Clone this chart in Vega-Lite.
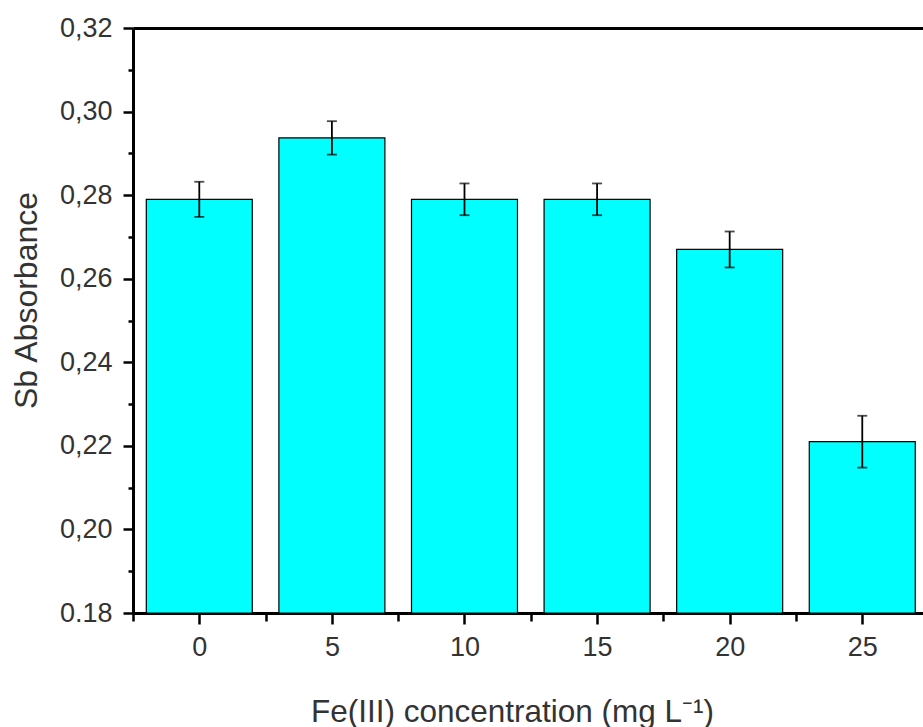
{
  "$schema": "https://vega.github.io/schema/vega-lite/v6.json",
  "width": 790,
  "height": 585,
  "autosize": {"type": "none"},
  "padding": {"left": 133, "top": 28, "right": 0, "bottom": 114},
  "background": "white",
  "config": {
    "view": {"stroke": null},
    "font": "Liberation Sans",
    "axis": {"grid": false, "labelFont": "Liberation Sans", "titleFont": "Liberation Sans", "labelColor": "#333333", "titleColor": "#333333", "titleFontWeight": "normal", "domainColor": "black", "tickColor": "black"}
  },
  "data": {
    "values": [
      {"conc": 0, "absorbance": 0.279, "err": 0.0042},
      {"conc": 5, "absorbance": 0.2937, "err": 0.004},
      {"conc": 10, "absorbance": 0.279, "err": 0.0038},
      {"conc": 15, "absorbance": 0.279, "err": 0.0038},
      {"conc": 20, "absorbance": 0.267, "err": 0.0043},
      {"conc": 25, "absorbance": 0.221, "err": 0.0062}
    ]
  },
  "resolve": {"axis": {"x": "independent"}},
  "layer": [
    {
      "mark": {"type": "bar", "width": 106, "fill": "#00FFFF", "stroke": "black", "strokeWidth": 1.2, "clip": true},
      "encoding": {
        "x": {
          "field": "conc", "type": "quantitative",
          "scale": {"domain": [-2.5, 27.29], "nice": false, "zero": false, "padding": 0},
          "axis": {
            "orient": "bottom",
            "values": [-2.5, 0, 2.5, 5, 7.5, 10, 12.5, 15, 17.5, 20, 22.5, 25],
            "labelExpr": "datum.value % 5 === 0 ? datum.label : ''",
            "labelFontSize": 27,
            "labelPadding": 10,
            "labelFlush": false,
            "labelOverlap": false,
            "domainWidth": 3,
            "tickWidth": 2.5,
            "tickSize": {"condition": {"test": "datum.value % 5 === 0", "value": 11}, "value": 8},
            "title": "Fe(III) concentration (mg L⁻¹)",
            "titleFontSize": 31.5,
            "titleX": 379,
            "titleY": 108,
            "titleAlign": "center",
            "titleBaseline": "alphabetic",
            "titleAnchor": null
          }
        },
        "y": {
          "field": "absorbance", "type": "quantitative",
          "scale": {"domain": [0.18, 0.32], "nice": false, "zero": false},
          "axis": {
            "values": [0.18, 0.19, 0.2, 0.21, 0.22, 0.23, 0.24, 0.25, 0.26, 0.27, 0.28, 0.29, 0.3, 0.31, 0.32],
            "labelExpr": "round(datum.value*100) % 2 === 0 ? (datum.value < 0.185 ? '0.18' : replace(format(datum.value, '.2f'), '.', ',')) : ''",
            "labelFontSize": 27,
            "labelPadding": 11,
            "labelFlush": false,
            "labelOverlap": false,
            "domainWidth": 3,
            "tickWidth": 2.5,
            "tickSize": {"condition": {"test": "round(datum.value*100) % 2 === 0", "value": 10}, "value": 5},
            "title": "Sb Absorbance",
            "titleFontSize": 32,
            "titleAngle": -90,
            "titleX": -97,
            "titleY": 272,
            "titleAlign": "center",
            "titleBaseline": "alphabetic",
            "titleAnchor": null
          }
        },
        "y2": {"datum": 0.18}
      }
    },
    {
      "mark": {"type": "errorbar", "ticks": {"size": 10, "thickness": 1.8, "color": "black"}, "rule": {"strokeWidth": 1.8, "color": "black"}, "color": "black"},
      "encoding": {
        "x": {
          "field": "conc", "type": "quantitative",
          "axis": {"orient": "top", "labels": false, "ticks": false, "title": null, "domainWidth": 3, "domainColor": "black", "grid": false}
        },
        "y": {"field": "absorbance", "type": "quantitative", "title": "Sb Absorbance"},
        "yError": {"field": "err"}
      }
    }
  ]
}
